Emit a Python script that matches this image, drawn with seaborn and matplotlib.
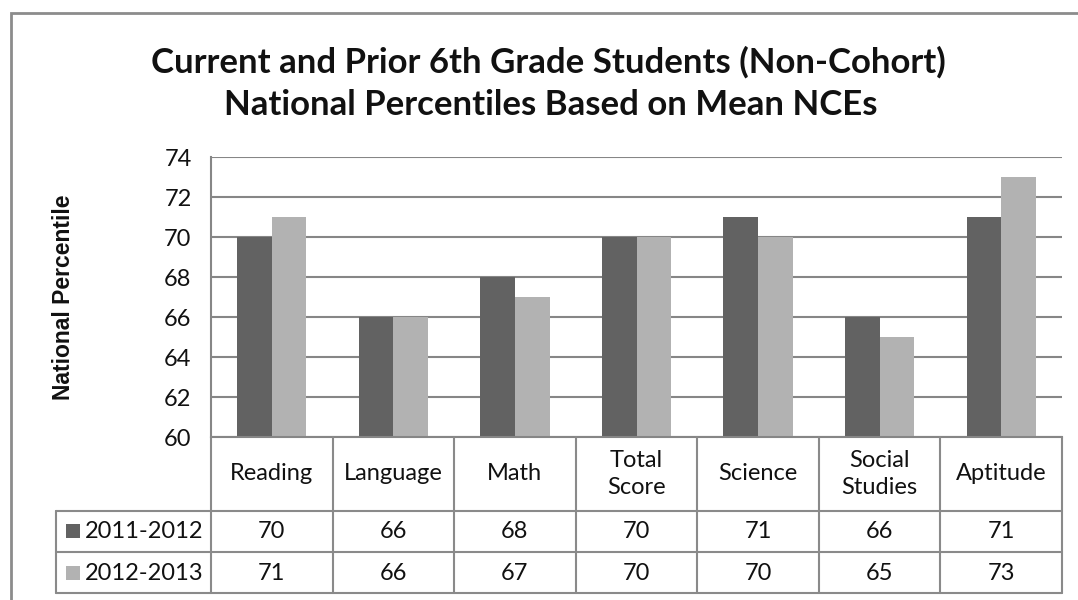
import matplotlib
matplotlib.use("Agg")
import matplotlib.pyplot as plt
import pandas as pd
import seaborn as sns
from matplotlib.transforms import blended_transform_factory
from matplotlib.lines import Line2D
from matplotlib.patches import Rectangle

# ---- data -------------------------------------------------------------
categories = ["Reading", "Language", "Math", "Total\nScore", "Science",
              "Social\nStudies", "Aptitude"]
series_names = ["2011-2012", "2012-2013"]
values_2011_2012 = [70, 66, 68, 70, 71, 66, 71]
values_2012_2013 = [71, 66, 67, 70, 70, 65, 73]
y_ticks = [60, 62, 64, 66, 68, 70, 72, 74]
series_colors = ["#626262", "#b2b2b2"]

title_lines = ["Current and Prior 6th Grade Students (Non-Cohort)",
               "National Percentiles Based on Mean NCEs"]
y_label = "National Percentile"

df = pd.DataFrame({
    "category": categories * 2,
    "season": [series_names[0]] * len(categories) + [series_names[1]] * len(categories),
    "value": values_2011_2012 + values_2012_2013,
})

# ---- figure geometry (pixel helpers) ---------------------------------
W, H = 1078, 600
sns.set_style("white")
plt.rcParams["font.family"] = ["Lato", "DejaVu Sans"]

fig = plt.figure(figsize=(W / 100, H / 100), dpi=100)


def fx(px):
    return px / W


def fy(py):
    return 1 - py / H


grid_color = "#868686"
line_color = "#8a8a8a"
text_color = "#111111"
body_size = 17

left_px, right_px, top_px, bottom_px = 211, 1062, 157, 437
ax = fig.add_axes([fx(left_px), fy(bottom_px),
                   fx(right_px) - fx(left_px), fy(top_px) - fy(bottom_px)])

sns.barplot(data=df, x="category", y="value", hue="season",
            palette=series_colors, width=0.57, gap=0, saturation=1,
            edgecolor="none", linewidth=0, legend=False, ax=ax)

ax.set_ylim(60, 74)
ax.set_yticks(y_ticks)
ax.set_xlim(-0.5, len(categories) - 0.5)
ax.set_xlabel("")
ax.set_ylabel("")
ax.set_xticklabels([])
ax.tick_params(axis="x", length=0)
ax.tick_params(axis="y", length=0, pad=14, labelsize=body_size, labelcolor=text_color)
ax.yaxis.grid(True, color=grid_color, linewidth=1.5)
ax.set_axisbelow(True)
for side in ["top", "right"]:
    ax.spines[side].set_visible(False)
for side in ["left", "bottom"]:
    ax.spines[side].set_color(grid_color)
    ax.spines[side].set_linewidth(1.5)

# ---- data table below the plot ---------------------------------------
tx = blended_transform_factory(ax.transData, fig.transFigure)
header_mid, row1_mid, row2_mid = 474, 531, 573
row_lines = [511, 552, 593]
legend_left = 56
n = len(categories)

for b in range(n + 1):
    xb = b - 0.5
    fig.add_artist(Line2D([xb, xb], [fy(bottom_px), fy(593)], transform=tx,
                          color=line_color, linewidth=1.5))
for ry in row_lines:
    fig.add_artist(Line2D([fx(legend_left), fx(right_px)], [fy(ry), fy(ry)],
                          transform=fig.transFigure, color=line_color, linewidth=1.5))
fig.add_artist(Line2D([fx(legend_left), fx(legend_left)], [fy(511), fy(593)],
                      transform=fig.transFigure, color=line_color, linewidth=1.5))

text_kw = dict(ha="center", va="center", fontsize=body_size, color=text_color)
for i, cat in enumerate(categories):
    fig.text(i, fy(header_mid), cat, transform=tx, linespacing=1.4, **text_kw)
    fig.text(i, fy(row1_mid), str(values_2011_2012[i]), transform=tx, **text_kw)
    fig.text(i, fy(row2_mid), str(values_2012_2013[i]), transform=tx, **text_kw)

for name, color, mid in zip(series_names, series_colors, [row1_mid, row2_mid]):
    fig.add_artist(Rectangle((fx(66), fy(mid + 7)), fx(14), 14 / H,
                             transform=fig.transFigure, facecolor=color,
                             edgecolor="none"))
    fig.text(fx(85), fy(mid), name, ha="left", va="center", fontsize=body_size,
             color=text_color)

# ---- titles, axis label, outer frame ---------------------------------
fig.text(fx(548), fy(62), title_lines[0], ha="center", va="center",
         fontsize=25, fontweight="bold", color=text_color)
fig.text(fx(551), fy(105), title_lines[1], ha="center", va="center",
         fontsize=25, fontweight="bold", color=text_color)
fig.text(fx(63), fy(297), y_label, rotation=90, ha="center", va="center",
         fontsize=16.5, fontweight="bold", family=["Liberation Sans", "DejaVu Sans"],
         color=text_color)

fig.add_artist(Rectangle((fx(11), fy(700)), fx(1200), 687 / H,
                         transform=fig.transFigure, facecolor="none",
                         edgecolor="#8c8c8c", linewidth=2))

fig.savefig("out.png", dpi=100)
